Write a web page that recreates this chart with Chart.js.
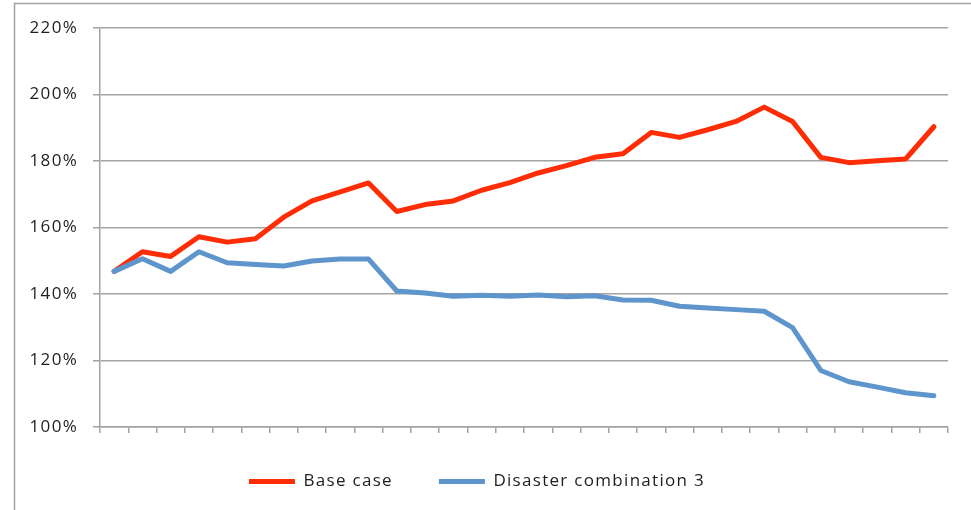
<!DOCTYPE html>
<html>
<head>
<meta charset="utf-8">
<script src="https://cdn.jsdelivr.net/npm/chart.js@4/dist/chart.umd.min.js"></script>
<style>
  html, body { margin: 0; padding: 0; background: #ffffff; }
</style>
</head>
<body>
<canvas id="c" width="971" height="510"></canvas>
<script>
// Periods along the horizontal axis (not labelled on the chart)
const periods = ['1','2','3','4','5','6','7','8','9','10','11','12','13','14','15',
                 '16','17','18','19','20','21','22','23','24','25','26','27','28','29','30'];

// Ratio per period, in percent
const baseCase = [146.8, 152.7, 151.3, 157.2, 155.6, 156.6, 163.1, 168.0, 170.7, 173.4,
                  164.8, 166.9, 168.0, 171.2, 173.5, 176.4, 178.6, 181.1, 182.2, 188.6,
                  187.1, 189.4, 191.9, 196.2, 191.9, 181.1, 179.5, 180.1, 180.6, 190.3];

const disasterCombination3 = [146.8, 150.6, 146.8, 152.7, 149.4, 148.9, 148.4, 149.9, 150.5, 150.5,
                              140.9, 140.3, 139.3, 139.6, 139.3, 139.7, 139.2, 139.5, 138.2, 138.1,
                              136.3, 135.8, 135.3, 134.8, 129.9, 117.0, 113.6, 112.0, 110.3, 109.4];

// Value axis ticks
const yTicks = [100, 120, 140, 160, 180, 200, 220];

const seriesNames = ['Base case', 'Disaster combination 3'];

const GRID = '#a3a3a3';
const TEXT = '#1e1e1e';
const SPACING = '1.3px';

// Slightly wider text tracking for every label on the canvas
const tracking = {
  id: 'tracking',
  beforeUpdate(chart) { chart.ctx.letterSpacing = SPACING; },
  beforeDraw(chart) { chart.ctx.letterSpacing = SPACING; }
};

// Legend row sits a little left of the canvas centre
const legendShift = {
  id: 'legendShift',
  afterLayout(chart) {
    if (chart.legend) { chart.legend.left -= 22; }
  }
};

// Thin frame around the chart, open on the right and bottom
const frame = {
  id: 'frame',
  beforeDraw(chart) {
    const ctx = chart.ctx;
    ctx.save();
    ctx.strokeStyle = GRID;
    ctx.lineWidth = 1.5;
    ctx.beginPath();
    ctx.moveTo(14.5, 512);
    ctx.lineTo(14.5, 3.5);
    ctx.lineTo(973, 3.5);
    ctx.stroke();
    ctx.restore();
  }
};

new Chart(document.getElementById('c'), {
  type: 'line',
  data: {
    labels: periods,
    datasets: [
      { label: seriesNames[0], data: baseCase, borderColor: '#ff2d05', backgroundColor: '#ff2d05',
        borderWidth: 5, borderCapStyle: 'round', borderJoinStyle: 'round', pointRadius: 0, order: 1 },
      { label: seriesNames[1], data: disasterCombination3, borderColor: '#5e95cd', backgroundColor: '#5e95cd',
        borderWidth: 5, borderCapStyle: 'round', borderJoinStyle: 'round', pointRadius: 0, order: 0 }
    ]
  },
  options: {
    responsive: false,
    animation: false,
    devicePixelRatio: 1,
    layout: { padding: { left: 28, right: 23, top: 28, bottom: 10 } },
    plugins: {
      legend: {
        position: 'bottom',
        labels: {
          usePointStyle: true, pointStyle: 'line', pointStyleWidth: 46, padding: 46,
          color: TEXT, font: { family: '"Open Sans", sans-serif', size: 17 },
          sort: (a, b) => a.datasetIndex - b.datasetIndex
        }
      },
      tooltip: { enabled: false }
    },
    scales: {
      x: {
        offset: true,
        grid: { offset: true, drawOnChartArea: false, drawTicks: true, tickLength: 6, color: GRID, lineWidth: 1.5 },
        border: { color: GRID, width: 1.5 },
        ticks: { display: false },
        afterFit(scale) { scale.height = 0; }
      },
      y: {
        min: 100, max: 220,
        afterBuildTicks(scale) { scale.ticks = yTicks.map(v => ({ value: v })); },
        ticks: { padding: 15, color: TEXT, font: { family: '"Open Sans", sans-serif', size: 17 }, callback: v => v + '%' },
        grid: { color: GRID, lineWidth: 1.5, drawTicks: true, tickLength: 7 },
        border: { color: GRID, width: 1.5 },
        afterFit(scale) { scale.width = 72; }
      }
    }
  },
  plugins: [tracking, legendShift, frame]
});
</script>
</body>
</html>
